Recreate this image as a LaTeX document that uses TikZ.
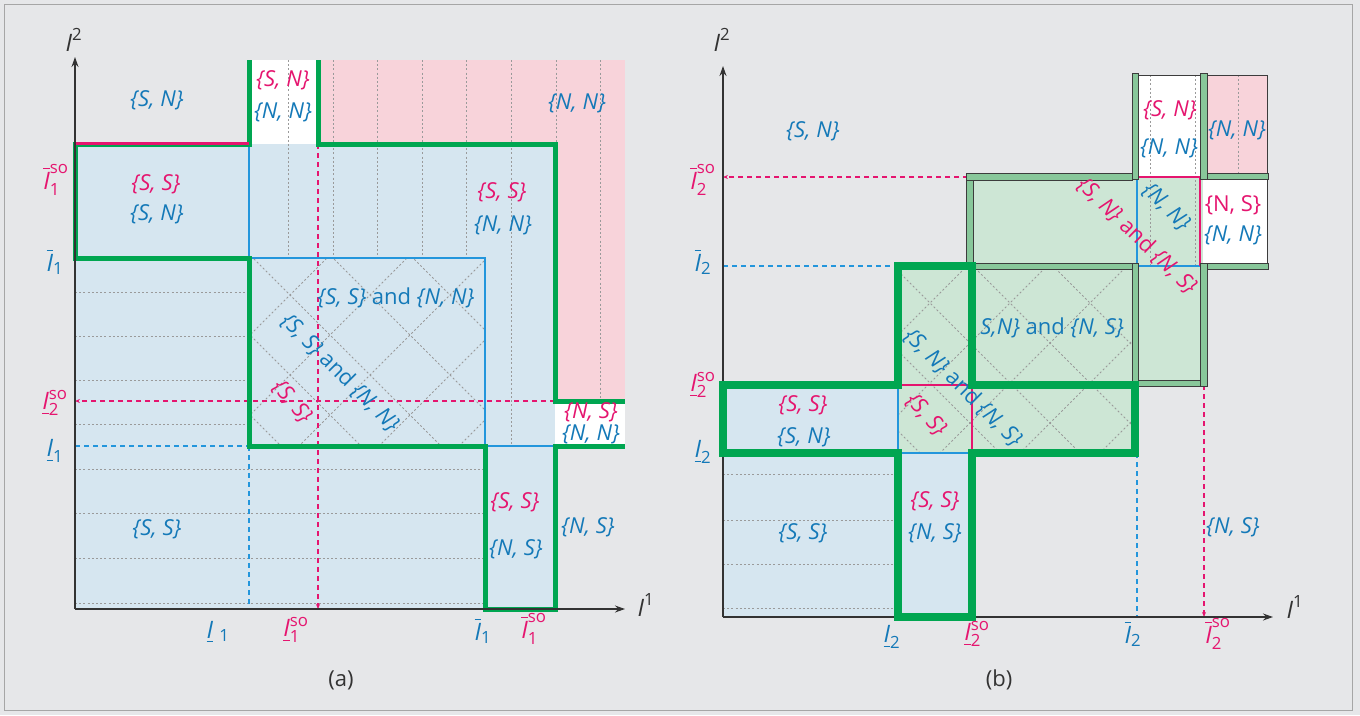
\documentclass[tikz,border=0pt]{standalone}
\usepackage{amsmath}
\usepackage{fontspec}
\setmainfont{Open Sans}
\usetikzlibrary{arrows.meta}
\definecolor{bgc}{HTML}{E6E7E9}
\definecolor{btxt}{HTML}{1479B8}
\definecolor{bln}{HTML}{2396DC}
\definecolor{pk}{HTML}{E5156F}
\definecolor{gr}{HTML}{00A651}
\definecolor{bluef}{HTML}{D6E6F0}
\definecolor{pinkf}{HTML}{F8D3DA}
\definecolor{greenf}{HTML}{CDE6D5}
\definecolor{wallg}{HTML}{88C79A}
\definecolor{walld}{HTML}{3C3C3C}
\definecolor{dotc}{HTML}{9A9A9A}
\definecolor{axc}{HTML}{333333}
\newcommand\pr[2]{\textit{\{#1, #2\}}}
\newcommand\Iob{\overline{\text{\itshape I}}}
\newcommand\Iub{\underline{\text{\itshape I}}}
\tikzset{
  lbl/.style={inner sep=0pt, font=\fontsize{22}{26}\selectfont},
  lax/.style={inner sep=0pt, font=\fontsize{24}{28}\selectfont},
  tb/.style={lbl, text=btxt},
  tp/.style={lbl, text=pk},
  tk/.style={lbl, text=axc},
  ab/.style={lax, text=btxt},
  ap/.style={lax, text=pk},
  ak/.style={lax, text=axc},
  dotl/.style={draw=dotc, line width=0.9pt, dash pattern=on 2pt off 2.2pt},
  gthk/.style={draw=gr, line width=5pt, line join=miter},
  gthkb/.style={draw=gr, line width=7.5pt, line join=miter},
  pkdash/.style={draw=pk, line width=2.3pt, dash pattern=on 5pt off 4pt},
  bldash/.style={draw=bln, line width=2.3pt, dash pattern=on 5pt off 4pt},
  blsolid/.style={draw=bln, line width=2pt},
  pksolid/.style={draw=pk, line width=2.5pt},
  axisl/.style={draw=axc, line width=1.3pt, -{Stealth[length=10pt,width=7pt]}},
  tipk/.style={-{Stealth[length=5pt,width=4pt]}},
  wall/.style={fill=wallg, draw=walld, line width=0.8pt},
}
\begin{document}
\begin{tikzpicture}[x=1pt,y=-1pt]
\useasboundingbox (0,0) rectangle (1360,715);
\fill[bgc] (0,0) rectangle (1360,715);
\draw[gray!70, line width=1pt] (4,4) rectangle (1352,710);

% ================= panel (a) =================
\fill[bluef] (75,144) rectangle (555,609);
\fill[pinkf] (318,60) rectangle (625,144);
\fill[pinkf] (555,144) rectangle (625,401);
\fill[white] (249,60) rectangle (318,144);
\fill[white] (555,401) rectangle (625,446);

\foreach \x in {288,333,377,422,466} \draw[dotl] (\x,60) -- (\x,258);
\draw[dotl] (511,60) -- (511,446);
\draw[dotl] (556,60) -- (556,144);
\draw[dotl] (600,60) -- (600,401);
\foreach \y in {292,336,380,424} \draw[dotl] (75,\y) -- (249,\y);
\foreach \y in {469,513,558,603} \draw[dotl] (75,\y) -- (485,\y);
\begin{scope}
  \clip (249,258) rectangle (485,446);
  \foreach \k in {-5,...,5}{
    \draw[dotl] (150,{155+80*\k}) -- (650,{655+80*\k});
    \draw[dotl] (150,{515+80*\k}) -- (650,{15+80*\k});
  }
\end{scope}

\coordinate (a1) at (555,401);
\coordinate (a2) at (75,401);
\coordinate (a3) at (318,144);
\coordinate (a4) at (318,609);
\draw[pkdash, tipk] (a1) -- (a2);
\draw[pkdash, tipk] (a3) -- (a4);
\draw[bldash] (75,446) -- (249,446);
\draw[bldash] (249,446) -- (249,609);
\draw[blsolid] (249,144) -- (249,258) -- (485,258) -- (485,446) -- (555,446);

\draw[gthk] (249,60) -- (249,144) -- (75,144) -- (75,258) -- (249,258) -- (249,446) -- (485,446) -- (485,609) -- (555,609) -- (555,446) -- (625,446);
\draw[gthk] (318,60) -- (318,144) -- (555,144) -- (555,401) -- (625,401);
\draw[pksolid] (75,143.5) -- (249,143.5);

\coordinate (Oa) at (75,609);
\coordinate (Ya) at (75,57);
\coordinate (Xa) at (625,609);
\draw[axisl] (Oa) -- (Ya);
\draw[axisl] (Oa) -- (Xa);
\node[ak] (ya) at (74,40) {$\text{\itshape I}^{\text{2}}$};
\node[ak] (xa) at (646,605) {$\text{\itshape I}^{\text{1}}$};

\node[tb] (n1) at (157,100) {\pr{S}{N}};
\node[tp] (n2) at (283,80) {\pr{S}{N}};
\node[tb] (n3) at (283,112) {\pr{N}{N}};
\node[tb] (n4) at (577,103) {\pr{N}{N}};
\node[tp] (n5) at (156,184) {\pr{S}{S}};
\node[tb] (n6) at (157,214) {\pr{S}{N}};
\node[tp] (n7) at (502,192) {\pr{S}{S}};
\node[tb] (n8) at (503,225) {\pr{N}{N}};
\node[tb] (n9) at (396,298) {\pr{S}{S} and \pr{N}{N}};
\node[tb, rotate=-45] (n10) at (340,373) {\pr{S}{S} and \pr{N}{N}};
\node[tp, rotate=-50] (n11) at (292,402) {\pr{S}{S}};
\node[tp] (n12) at (591,412) {\pr{N}{S}};
\node[tb] (n13) at (591,434) {\pr{N}{N}};
\node[tb] (n14) at (157,529) {\pr{S}{S}};
\node[tp] (n15) at (515,502) {\pr{S}{S}};
\node[tb] (n16) at (516,549) {\pr{N}{S}};
\node[tb] (n17) at (588,527) {\pr{N}{S}};

\node[ap] (ly1) at (56,180) {$\Iob^{\text{so}}_{\text{1}}$};
\node[ab] (ly2) at (55,262) {$\Iob_{\text{1}}$};
\node[ap] (ly3) at (55,403) {$\Iub^{\text{so}}_{\text{2}}$};
\node[ab] (ly4) at (55,451) {$\Iub_{\text{1}}$};
\node[ab] (lx1) at (218,632) {$\Iub\ {}_{\text{1}}$};
\node[ap] (lx2) at (296,630) {$\Iub^{\text{so}}_{\text{1}}$};
\node[ab] (lx3) at (483,631) {$\Iob_{\text{1}}$};
\node[ap] (lx4) at (534,629) {$\Iob^{\text{so}}_{\text{1}}$};
\node[tk] (capa) at (341,680) {(a)};

% ================= panel (b) =================
\fill[bluef] (723,385) rectangle (898,617);
\fill[bluef] (898,453) rectangle (972,617);
\fill[greenf] (898,266) rectangle (1135,453);
\fill[greenf] (968,177) rectangle (1203,385);
\fill[white] (1137,75) rectangle (1203,177);
\fill[pinkf] (1203,75) rectangle (1267,177);
\fill[white] (1203,177) rectangle (1267,266);

\foreach \y in {474,520,564,608} \draw[dotl] (723,\y) -- (898,\y);
\draw[dotl] (1150,75) -- (1150,266);
\draw[dotl] (1195,75) -- (1195,266);
\draw[dotl] (1238,75) -- (1238,177);
\begin{scope}
  \clip (898,266) rectangle (1135,453);
  \foreach \k in {-6,...,6}{
    \draw[dotl] (800,{93+80*\k}) -- (1250,{543+80*\k});
    \draw[dotl] (800,{513+80*\k}) -- (1250,{63+80*\k});
  }
\end{scope}

\coordinate (b1) at (968,177);
\coordinate (b2) at (723,177);
\coordinate (b3) at (1204,385);
\coordinate (b4) at (1204,617);
\draw[pkdash, tipk] (b1) -- (b2);
\draw[pkdash, tipk] (b3) -- (b4);
\draw[bldash] (723,266) -- (898,266);
\draw[bldash] (1137,453) -- (1137,617);

\draw[blsolid] (898,385) -- (898,453) -- (972,453);
\draw[pksolid] (898,385) -- (972,385) -- (972,453);
\draw[blsolid] (1137,177) -- (1137,266) -- (1200,266);
\draw[pksolid] (1137,177) -- (1200,177) -- (1200,266);

\draw[walld, line width=1pt] (1135,75) -- (1267,75) -- (1267,266);
\filldraw[wall] (1132,73) rectangle (1138,179);
\filldraw[wall] (1200,73) rectangle (1207,179);
\filldraw[wall] (966,173) rectangle (1132,180);
\filldraw[wall] (1207,173) rectangle (1268,179);
\filldraw[wall] (966,180) rectangle (973,269);
\filldraw[wall] (973,263) rectangle (1132,269);
\filldraw[wall] (1207,263) rectangle (1268,269);
\filldraw[wall] (1132,263) rectangle (1138,386);
\filldraw[wall] (1200,263) rectangle (1207,386);
\filldraw[wall] (1138,380) rectangle (1200,386);

\coordinate (Ob) at (723,617);
\coordinate (Yb) at (723,66);
\coordinate (Xb) at (1273,617);
\draw[axisl] (Ob) -- (Yb);
\draw[axisl] (Ob) -- (Xb);

\draw[gthkb] (723,385) -- (898,385) -- (898,266) -- (972,266) -- (972,385) -- (1135,385) -- (1135,453) -- (972,453) -- (972,617) -- (898,617) -- (898,453) -- (723,453) -- cycle;

\node[ak] (yb) at (722,40) {$\text{\itshape I}^{\text{2}}$};
\node[ak] (xb) at (1295,607) {$\text{\itshape I}^{\text{1}}$};

\node[tb] (m1) at (813,131) {\pr{S}{N}};
\node[tp] (m2) at (1170,110) {\pr{S}{N}};
\node[tb] (m3) at (1169,148) {\pr{N}{N}};
\node[tb] (m4) at (1237,130) {\pr{N}{N}};
\node[tp] (m5) at (1233,205) {\{N, S\}};
\node[tb] (m6) at (1233,235) {\pr{N}{N}};
\node[tb, rotate=-45] (m7) at (1166,207) {\pr{N}{N}};
\node[tp, rotate=-44] (m8) at (1137,236) {\pr{S}{N} and \pr{N}{S}};
\node[tb] (m9) at (1052,328) {\textit{S,N\}} and \pr{N}{S}};
\node[tb, rotate=-45] (m10) at (963,388) {\pr{S}{N} and \pr{N}{S}};
\node[tp, rotate=-48] (m11) at (926,415) {\pr{S}{S}};
\node[tp] (m12) at (803,405) {\pr{S}{S}};
\node[tb] (m13) at (804,437) {\pr{S}{N}};
\node[tb] (m14) at (803,533) {\pr{S}{S}};
\node[tp] (m15) at (935,501) {\pr{S}{S}};
\node[tb] (m16) at (935,533) {\pr{N}{S}};
\node[tb] (m17) at (1233,527) {\pr{N}{S}};

\node[ap] (ky1) at (703,180) {$\Iob^{\text{so}}_{\text{2}}$};
\node[ab] (ky2) at (703,262) {$\Iob_{\text{2}}$};
\node[ap] (ky3) at (703,385) {$\Iub^{\text{so}}_{\text{2}}$};
\node[ab] (ky4) at (703,452) {$\Iub_{\text{2}}$};
\node[ab] (kx1) at (892,637) {$\Iub_{\text{2}}$};
\node[ap] (kx2) at (977,634) {$\Iub^{\text{so}}_{\text{2}}$};
\node[ab] (kx3) at (1133,634) {$\Iob_{\text{2}}$};
\node[ap] (kx4) at (1218,634) {$\Iob^{\text{so}}_{\text{2}}$};
\node[tk] (capb) at (999,680) {(b)};
\end{tikzpicture}
\end{document}
